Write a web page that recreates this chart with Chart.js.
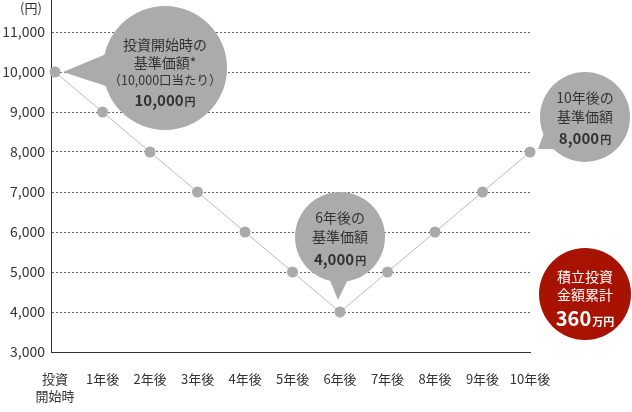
<!DOCTYPE html>
<html>
<head>
<meta charset="utf-8">
<script src="https://cdn.jsdelivr.net/npm/chart.js@4/dist/chart.umd.min.js"></script>
<style>
  html, body { margin: 0; padding: 0; background: #fff; }
  #wrap { width: 632px; height: 412px; position: relative; }
</style>
</head>
<body>
<div id="wrap"><canvas id="chart"></canvas></div>
<script>
// ---------- DATA ----------
const periods = [["投資", "開始時"], "1年後", "2年後", "3年後", "4年後", "5年後", "6年後", "7年後", "8年後", "9年後", "10年後"];
const navValues = [10000, 9000, 8000, 7000, 6000, 5000, 4000, 5000, 6000, 7000, 8000];
const yTicks = [3000, 4000, 5000, 6000, 7000, 8000, 9000, 10000, 11000];

// callouts hung on data points
const callouts = [
  { index: 0, lines: ["投資開始時の", "基準価額*", "（10,000口当たり）"], value: "10,000", unit: "円" },
  { index: 6, lines: ["6年後の", "基準価額"], value: "4,000", unit: "円" },
  { index: 10, lines: ["10年後の", "基準価額"], value: "8,000", unit: "円" }
];
const totalBox = { lines: ["積立投資", "金額累計"], value: "360", unit: "万円" };

const FONT = '"Noto Sans CJK JP", "Noto Sans", sans-serif';
const BUBBLE = "#ababab";
const RED = "#a81200";

// draw centered "value + small unit" text
function valueText(ctx, x, y, value, unit, bigSize, smallSize, color) {
  ctx.font = `bold ${bigSize}px ${FONT}`;
  const w1 = ctx.measureText(value).width;
  ctx.font = `bold ${smallSize}px ${FONT}`;
  const w2 = ctx.measureText(unit).width;
  const start = x - (w1 + w2 + 1) / 2;
  ctx.fillStyle = color;
  ctx.textAlign = "left";
  ctx.textBaseline = "alphabetic";
  ctx.font = `bold ${bigSize}px ${FONT}`;
  ctx.fillText(value, start, y);
  ctx.font = `bold ${smallSize}px ${FONT}`;
  ctx.fillText(unit, start + w1 + 1, y);
}

function bubble(ctx, cx, cy, r, tip, spread) {
  const ang = Math.atan2(tip.y - cy, tip.x - cx);
  ctx.fillStyle = BUBBLE;
  ctx.beginPath();
  ctx.arc(cx, cy, r, 0, Math.PI * 2);
  ctx.fill();
  ctx.beginPath();
  ctx.moveTo(cx + Math.cos(ang - spread) * (r - 2), cy + Math.sin(ang - spread) * (r - 2));
  ctx.lineTo(tip.x, tip.y);
  ctx.lineTo(cx + Math.cos(ang + spread) * (r - 2), cy + Math.sin(ang + spread) * (r - 2));
  ctx.closePath();
  ctx.fill();
}

const calloutPlugin = {
  id: "callouts",
  afterDraw(chart) {
    const ctx = chart.ctx;
    const xs = chart.scales.x, ys = chart.scales.y;
    const area = chart.chartArea;
    ctx.save();

    // unit label
    ctx.fillStyle = "#333";
    ctx.font = `13px ${FONT}`;
    ctx.textAlign = "center";
    ctx.textBaseline = "middle";
    ctx.fillText("(円)", 31, 8);

    // start bubble
    let c = callouts[0];
    let px = xs.getPixelForValue(c.index), py = ys.getPixelForValue(navValues[c.index]);
    let cx = px + 110, cy = py - 4;
    bubble(ctx, cx, cy, 62, { x: px + 8, y: py }, 0.28);
    ctx.fillStyle = "#333";
    ctx.textAlign = "center";
    ctx.textBaseline = "middle";
    ctx.font = `14px ${FONT}`;
    ctx.fillText(c.lines[0], cx, cy - 23);
    ctx.fillText(c.lines[1], cx, cy - 5);
    ctx.font = `12.5px ${FONT}`;
    ctx.fillText(c.lines[2], cx, cy + 12);
    valueText(ctx, cx, cy + 38, c.value, c.unit, 15, 11, "#333");

    // 6 year bubble
    c = callouts[1];
    px = xs.getPixelForValue(c.index); py = ys.getPixelForValue(navValues[c.index]);
    cx = px; cy = py - 75;
    bubble(ctx, cx, cy, 45, { x: px - 2, y: py - 12 }, 0.22);
    ctx.fillStyle = "#333";
    ctx.textAlign = "center";
    ctx.textBaseline = "middle";
    ctx.font = `14px ${FONT}`;
    ctx.fillText(c.lines[0], cx, cy - 19);
    ctx.fillText(c.lines[1], cx, cy);
    valueText(ctx, cx, cy + 28, c.value, c.unit, 15, 11, "#333");

    // 10 year bubble
    c = callouts[2];
    px = xs.getPixelForValue(c.index); py = ys.getPixelForValue(navValues[c.index]);
    cx = px + 55; cy = py - 35;
    bubble(ctx, cx, cy, 45, { x: px + 8, y: py - 3 }, 0.25);
    ctx.fillStyle = "#333";
    ctx.textAlign = "center";
    ctx.textBaseline = "middle";
    ctx.font = `14px ${FONT}`;
    ctx.fillText(c.lines[0], cx, cy - 19);
    ctx.fillText(c.lines[1], cx, cy);
    valueText(ctx, cx, cy + 27, c.value, c.unit, 15, 11, "#333");

    // red total circle
    cx = area.right + 55; cy = ys.getPixelForValue(4400) - 2;
    ctx.fillStyle = RED;
    ctx.beginPath();
    ctx.arc(cx, cy, 46, 0, Math.PI * 2);
    ctx.fill();
    ctx.fillStyle = "#fff";
    ctx.textAlign = "center";
    ctx.textBaseline = "middle";
    ctx.font = `14px ${FONT}`;
    ctx.fillText(totalBox.lines[0], cx, cy - 17);
    ctx.fillText(totalBox.lines[1], cx, cy + 1);
    valueText(ctx, cx, cy + 32, totalBox.value, totalBox.unit, 20, 11, "#fff");

    ctx.restore();
  }
};

new Chart(document.getElementById("chart"), {
  type: "line",
  data: {
    datasets: [{
      data: navValues.map((v, i) => ({ x: i, y: v })),
      borderColor: "#bbbbbb",
      borderWidth: 1,
      pointRadius: 5.5,
      pointBackgroundColor: "#aaaaaa",
      pointBorderWidth: 0,
      tension: 0,
      clip: false
    }]
  },
  options: {
    responsive: true,
    maintainAspectRatio: false,
    animation: false,
    layout: { autoPadding: false, padding: { top: 0, right: 102, bottom: 0, left: 0 } },
    plugins: { legend: { display: false }, tooltip: { enabled: false } },
    scales: {
      x: {
        type: "linear",
        min: -0.085,
        max: 10,
        afterBuildTicks: (s) => { s.ticks = periods.map((_, i) => ({ value: i })); },
        afterFit: (s) => { s.height = 60; s.paddingLeft = 0; s.paddingRight = 0; },
        grid: { display: false, drawTicks: false },
        border: { display: true, color: "#333", width: 1 },
        ticks: {
          autoSkip: false,
          maxRotation: 0,
          padding: 19,
          color: "#333",
          font: { family: FONT, size: 13, lineHeight: 1.3 },
          callback: (v) => periods[v]
        }
      },
      y: {
        min: 3000,
        max: 11800,
        afterBuildTicks: (s) => { s.ticks = yTicks.map((v) => ({ value: v })); },
        afterFit: (s) => { s.width = 51; s.paddingTop = 0; s.paddingBottom = 0; },
        grid: { color: "#666", lineWidth: 1, drawTicks: false },
        border: { display: true, color: "#333", width: 1, dash: [2, 2] },
        ticks: {
          padding: 6,
          color: "#333",
          font: { family: FONT, size: 14 },
          callback: (v) => v.toLocaleString("en-US")
        }
      }
    }
  },
  plugins: [calloutPlugin]
});
</script>
</body>
</html>
